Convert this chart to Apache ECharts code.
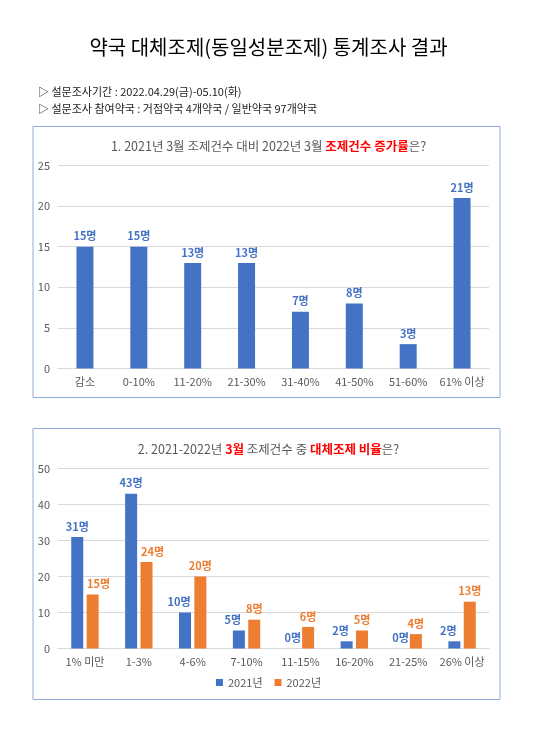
<html>
<head>
    <meta http-equiv="Content-Type" content="text/html; charset=utf-8" />
</head>
<script type="text/javascript" src="https://cdn.jsdelivr.net/npm/echarts@6/dist/echarts.min.js"></script>
<body style="margin:0;background:#fff">
<div id="main" style="width: 537px;height:730px;"></div>
</body>
<script type="text/javascript">
    // 1번 차트 데이터
    var cat1 = ['감소', '0-10%', '11-20%', '21-30%', '31-40%', '41-50%', '51-60%', '61% 이상'];
    var val1 = [15, 15, 13, 13, 7, 8, 3, 21];
    // 2번 차트 데이터
    var cat2 = ['1% 미만', '1-3%', '4-6%', '7-10%', '11-15%', '16-20%', '21-25%', '26% 이상'];
    var val2021 = [31, 43, 10, 5, 0, 2, 0, 2];
    var val2022 = [15, 24, 20, 8, 6, 5, 4, 13];
    var seriesNames = ['2021년', '2022년'];

    var FONT = '"Noto Sans CJK KR", "Noto Sans", sans-serif';
    var BLUE = '#4472C4', ORANGE = '#ED7D31', GRAY = '#595959';

    function lbl(color) {
        return {
            show: true, position: 'top', distance: 5,
            formatter: '{c}명', color: color, fontWeight: 'bold',
            fontSize: 11, fontFamily: FONT
        };
    }

    // 옆 막대가 더 높으면 라벨을 바깥쪽으로 살짝 밀어줌
    var data2021 = val2021.map(function (v, i) {
        return { value: v, label: { offset: [(val2022[i] > v && v > 0) ? -6 : 0, 0] } };
    });
    var data2022 = val2022.map(function (v, i) {
        return { value: v, label: { offset: [val2021[i] > v ? 6 : 0, 0] } };
    });

    var myChart = echarts.init(document.getElementById('main'));
    var axisX = function (data, idx) {
        return {
            type: 'category', gridIndex: idx, data: data,
            axisLine: { lineStyle: { color: '#d9d9d9' } },
            axisTick: { show: false },
            axisLabel: { color: GRAY, fontSize: 11, fontFamily: FONT, margin: 8, interval: 0 }
        };
    };
    var axisY = function (max, interval, idx) {
        return {
            type: 'value', gridIndex: idx, min: 0, max: max, interval: interval,
            axisLine: { show: false }, axisTick: { show: false },
            axisLabel: { color: GRAY, fontSize: 11, fontFamily: FONT, margin: 8 },
            splitLine: { lineStyle: { color: '#d9d9d9' } }
        };
    };

    var rich = {
        g: { color: GRAY, fontSize: 12.5, fontWeight: 'normal', fontFamily: FONT },
        r: { color: '#FF0000', fontSize: 12.5, fontWeight: 'bold', fontFamily: FONT }
    };

    option = {
        animation: false,
        textStyle: { fontFamily: FONT },
        title: [
            {
                text: '약국 대체조제(동일성분조제) 통계조사 결과',
                left: 'center', top: 32,
                textStyle: { fontSize: 20, fontWeight: 'normal', color: '#000', fontFamily: FONT }
            },
            {
                text: '▷ 설문조사기간 : 2022.04.29(금)-05.10(화)\n▷ 설문조사 참여약국 : 거점약국 4개약국 / 일반약국 97개약국',
                left: 33, top: 78,
                textStyle: { fontSize: 11, fontWeight: 'normal', color: '#222', lineHeight: 17, fontFamily: FONT }
            },
            {
                text: '{g|1. 2021년 3월 조제건수 대비 2022년 3월 }{r|조제건수 증가률}{g|은?}',
                left: 'center', top: 135,
                textStyle: { fontWeight: 'normal', rich: rich }
            },
            {
                text: '{g|2. 2021-2022년 }{r|3월}{g| 조제건수 중 }{r|대체조제 비율}{g|은?}',
                left: 'center', top: 438,
                textStyle: { fontWeight: 'normal', rich: rich }
            }
        ],
        graphic: [
            { type: 'rect', shape: { x: 33, y: 126.5, width: 467, height: 271 },
              style: { fill: 'none', stroke: '#8FAADC', lineWidth: 1 } },
            { type: 'rect', shape: { x: 33, y: 428.5, width: 467, height: 271 },
              style: { fill: 'none', stroke: '#8FAADC', lineWidth: 1 } }
        ],
        legend: {
            data: seriesNames, bottom: 37, left: 'center',
            itemWidth: 7, itemHeight: 7, itemGap: 12, icon: 'rect',
            textStyle: { color: GRAY, fontSize: 11, fontFamily: FONT }
        },
        grid: [
            { left: 58, right: 48, top: 165.5, height: 203 },
            { left: 58, right: 48, top: 468.5, height: 180 }
        ],
        xAxis: [axisX(cat1, 0), axisX(cat2, 1)],
        yAxis: [axisY(25, 5, 0), axisY(50, 10, 1)],
        series: [
            { type: 'bar', xAxisIndex: 0, yAxisIndex: 0, data: val1, barWidth: 17,
              itemStyle: { color: BLUE }, label: lbl(BLUE) },
            { name: seriesNames[0], type: 'bar', xAxisIndex: 1, yAxisIndex: 1, data: data2021,
              barWidth: 12, barGap: '28%', itemStyle: { color: BLUE }, label: lbl(BLUE) },
            { name: seriesNames[1], type: 'bar', xAxisIndex: 1, yAxisIndex: 1, data: data2022,
              barWidth: 12, barGap: '28%', itemStyle: { color: ORANGE }, label: lbl(ORANGE) }
        ]
    };

    myChart.setOption(option);
</script>
</html>
